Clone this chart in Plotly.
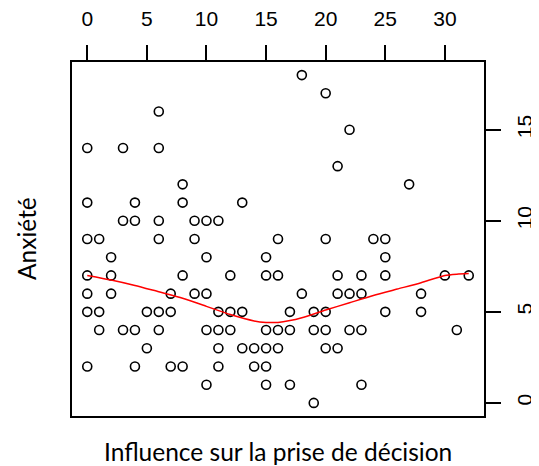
import plotly.graph_objects as go

# Scatter data: Influence sur la prise de décision (x) vs Anxiété (y)
influence = [6, 0, 3, 6, 8, 0, 4, 8, 3, 4, 6, 0, 1, 6, 2, 0, 2, 8, 0, 2, 7, 0, 1, 5, 6, 7,
             1, 3, 4, 6, 5, 0, 4, 7, 8,
             18, 13, 9, 10, 11, 16, 9, 10, 15, 12, 15, 16, 9, 10, 18, 11, 12, 13, 17,
             10, 11, 12, 15, 16, 17, 11, 13, 14, 15, 16, 11, 14, 15, 10, 15, 17,
             20, 22, 21, 27, 20, 24, 25, 25, 21, 23, 25, 30, 32, 21, 22, 23, 28,
             19, 20, 25, 28, 19, 20, 22, 23, 31, 20, 21, 23, 19]
anxiete = [16, 14, 14, 14, 12, 11, 11, 11, 10, 10, 10, 9, 9, 9, 8, 7, 7, 7, 6, 6, 6, 5, 5, 5, 5, 5,
           4, 4, 4, 4, 3, 2, 2, 2, 2,
           18, 11, 10, 10, 10, 9, 9, 8, 8, 7, 7, 7, 6, 6, 6, 5, 5, 5, 5,
           4, 4, 4, 4, 4, 4, 3, 3, 3, 3, 3, 2, 2, 2, 1, 1, 1,
           17, 15, 13, 12, 9, 9, 9, 8, 7, 7, 7, 7, 7, 6, 6, 6, 6,
           5, 5, 5, 5, 4, 4, 4, 4, 4, 3, 3, 1, 0]

# Smoothed (lowess) curve
smooth_x = [0, 2, 4, 6, 8, 10, 12, 14, 15, 16, 17, 18, 20, 22, 24, 26, 28, 30, 31, 32]
smooth_y = [7.0, 6.75, 6.45, 6.1, 5.75, 5.3, 4.85, 4.5, 4.42, 4.42, 4.52, 4.68, 5.1, 5.5, 5.9, 6.25, 6.6, 7.0, 7.07, 7.1]

x_ticks = [0, 5, 10, 15, 20, 25, 30]
y_ticks = [0, 5, 10, 15]

fig = go.Figure()
fig.add_trace(go.Scatter(
    x=influence, y=anxiete, mode="markers",
    marker=dict(symbol="circle-open", size=9, color="black", line=dict(width=1.6, color="black")),
    showlegend=False, hoverinfo="skip"))
fig.add_trace(go.Scatter(
    x=smooth_x, y=smooth_y, mode="lines",
    line=dict(color="red", width=1.5, shape="spline", smoothing=0.6),
    showlegend=False, hoverinfo="skip"))

tick_font = dict(family="Liberation Sans, Arial", size=21, color="black")
label_font = dict(family="Lato, Open Sans", size=24.5, color="black")
# page body has an 8px margin, so the figure is sized to fit the window
fig.update_layout(
    width=531, height=458,
    margin=dict(l=64, r=55, t=54, b=50),
    paper_bgcolor="white", plot_bgcolor="white",
    xaxis=dict(range=[-1.28, 33.28], side="top", tickvals=x_ticks, ticks="outside",
               ticklen=15, tickwidth=1.5, tickcolor="black", showgrid=False, zeroline=False,
               showline=True, linecolor="black", linewidth=2, mirror=True, automargin=False,
               tickfont=tick_font, ticklabelstandoff=11),
    yaxis=dict(range=[-0.72, 18.72], side="right", tickvals=y_ticks, ticks="outside",
               ticklen=15, tickwidth=1.5, tickcolor="black", showgrid=False, zeroline=False,
               showline=True, linecolor="black", linewidth=2, mirror=True, automargin=False,
               tickfont=tick_font, tickangle=-90, ticklabelstandoff=6),
    annotations=[
        dict(text="Influence sur la prise de décision", xref="paper", yref="paper",
             x=0.5, y=0, yanchor="middle", xanchor="center", yshift=-35, showarrow=False,
             font=label_font),
        dict(text="Anxiété", xref="paper", yref="paper", x=0, y=0.5,
             xanchor="center", yanchor="middle", xshift=-46, textangle=-90, showarrow=False,
             font=label_font),
    ],
)

fig.write_html("out.html")
